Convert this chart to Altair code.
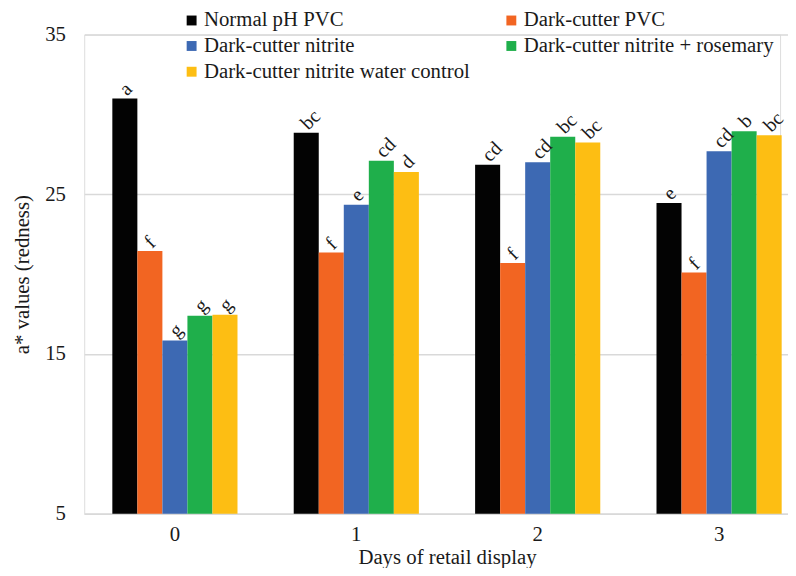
import altair as alt
import pandas as pd

days = ["0", "1", "2", "3"]
series = [
    "Normal pH PVC",
    "Dark-cutter PVC",
    "Dark-cutter nitrite",
    "Dark-cutter nitrite + rosemary",
    "Dark-cutter nitrite water control",
]
colors = ["#030303", "#F26522", "#3D69B3", "#1FAF4B", "#FDBE13"]

normal_pvc = [31.0, 28.85, 26.85, 24.45]
dc_pvc = [21.45, 21.35, 20.7, 20.1]
dc_nitrite = [15.85, 24.35, 27.0, 27.7]
dc_rosemary = [17.4, 27.1, 28.6, 28.95]
dc_water = [17.45, 26.4, 28.25, 28.7]

letters_normal = ["a", "bc", "cd", "e"]
letters_dc_pvc = ["f", "f", "f", "f"]
letters_nitrite = ["g", "e", "cd", "cd"]
letters_rosemary = ["g", "cd", "bc", "b"]
letters_water = ["g", "d", "bc", "bc"]

values = [normal_pvc, dc_pvc, dc_nitrite, dc_rosemary, dc_water]
letters = [letters_normal, letters_dc_pvc, letters_nitrite, letters_rosemary, letters_water]

rows = []
for s, vals, lets in zip(series, values, letters):
    for d, v, l in zip(days, vals, lets):
        rows.append({"day": d, "series": s, "value": v, "letter": l})
df = pd.DataFrame(rows)

font = "Liberation Serif"
txt = "#1a1a1a"
fs = 21

x_enc = alt.X(
    "day:N",
    sort=days,
    scale=alt.Scale(range=[0, 733], paddingInner=0.31, paddingOuter=0.155),
    axis=alt.Axis(
        title="Days of retail display",
        labelAngle=0,
        labelFont=font,
        labelFontSize=fs,
        labelColor=txt,
        labelPadding=10,
        titleFont=font,
        titleFontSize=fs,
        titleFontWeight="normal",
        titleColor=txt,
        titlePadding=2,
        ticks=False,
        domainColor="#d9d9d9",
        domainWidth=1.5,
        grid=False,
    ),
)
xoff_enc = alt.XOffset("series:N", sort=series, scale=alt.Scale(paddingInner=0, paddingOuter=0))
y_enc = alt.Y(
    "value:Q",
    scale=alt.Scale(domain=[5, 35], nice=False, zero=False),
    axis=alt.Axis(
        title="a* values (redness)",
        values=[5, 15, 25, 35],
        labelFont=font,
        labelFontSize=fs,
        labelColor=txt,
        labelPadding=19,
        titleFont=font,
        titleFontSize=fs,
        titleFontWeight="normal",
        titleColor=txt,
        titlePadding=12,
        ticks=False,
        domain=False,
        grid=True,
        gridColor="#d9d9d9",
        gridWidth=1.5,
    ),
)

bars = alt.Chart(df).mark_bar(stroke=None).encode(
    x=x_enc,
    xOffset=xoff_enc,
    y=y_enc,
    y2=alt.datum(5),
    color=alt.Color(
        "series:N",
        sort=series,
        scale=alt.Scale(domain=series, range=colors),
        legend=alt.Legend(
            title=None,
            orient="none",
            direction="horizontal",
            legendX=98,
            legendY=-25,
            columns=2,
            symbolType="square",
            symbolSize=100,
            symbolStrokeWidth=0,
            symbolOpacity=1,
            labelFont=font,
            labelFontSize=fs,
            labelColor=txt,
            labelLimit=0,
            columnPadding=31,
            rowPadding=4,
            labelOffset=2,
        ),
    ),
)

labels = alt.Chart(df).mark_text(
    angle=315, align="left", baseline="middle", dx=3, dy=-6, font=font, fontSize=20, color=txt
).encode(
    x=alt.X("day:N", sort=days),
    xOffset=alt.XOffset("series:N", sort=series),
    y=alt.Y("value:Q"),
    text="letter:N",
)

chart = (
    alt.layer(bars, labels)
    .properties(
        width=703,
        height=484,
        autosize=alt.AutoSizeParams(type="none"),
        padding={"left": 77, "top": 24, "right": 8, "bottom": 52},
    )
    .configure_view(stroke=None)
    .configure(background="white")
)

chart.save("out.html", embed_options={"renderer": "svg", "actions": False})
